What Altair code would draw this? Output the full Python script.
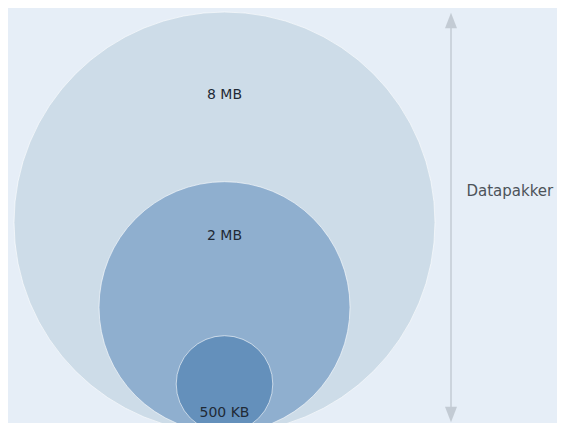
import altair as alt
import pandas as pd

# Data
labels = ["8 MB", "2 MB", "500 KB"]
megabytes = [8, 2, 0.5]
colors = ["#cddce8", "#8fafcf", "#6490bb"]
axis_label = "Datapakker"

df = pd.DataFrame({"label": labels, "mb": megabytes})

W, H = 549, 415

circles = alt.Chart(df).mark_circle(
    opacity=1, stroke="white", strokeWidth=1, strokeOpacity=0.6
).encode(
    x=alt.value(216.5),
    y=alt.Y("mb:Q", axis=None,
            scale=alt.Scale(domain=[0.5, 2, 8], range=[376, 299.2, 214.5], nice=False, zero=False)),
    size=alt.Size("mb:Q", legend=None,
                  scale=alt.Scale(domain=[0.5, 2, 8], range=[96.6 ** 2, 251 ** 2, 421 ** 2], zero=False, nice=False)),
    color=alt.Color("label:N", legend=None,
                    scale=alt.Scale(domain=labels, range=colors)),
    order=alt.Order("mb:Q", sort="descending"),
)

texts = alt.Chart(df).mark_text(
    font="DejaVu Sans", fontSize=14, color="#1f2a36", baseline="middle", align="center"
).encode(
    x=alt.value(216.5),
    y=alt.Y("mb:Q", axis=None,
            scale=alt.Scale(domain=[0.5, 2, 8], range=[405, 228, 87], nice=False, zero=False)),
    text="label:N",
)

arrow_color = "#c3cbd4"
rule = alt.Chart(df).transform_filter("datum.mb == 8").mark_rule(color=arrow_color, strokeWidth=1.5).encode(
    x=alt.value(443), y=alt.value(19), y2=alt.value(404)
)
head_up = alt.Chart(df).transform_filter("datum.mb == 8").mark_point(
    shape="M0,-1L0.77,1L-0.77,1Z", filled=True, color=arrow_color, opacity=1, size=243
).encode(x=alt.value(443), y=alt.value(12.5))
head_down = alt.Chart(df).transform_filter("datum.mb == 8").mark_point(
    shape="M0,1L0.77,-1L-0.77,-1Z", filled=True, color=arrow_color, opacity=1, size=243
).encode(x=alt.value(443), y=alt.value(406.5))

side_label = alt.Chart(pd.DataFrame({"t": [axis_label]})).mark_text(
    font="DejaVu Sans", fontSize=15, color="#4d535a", align="left", baseline="middle"
).encode(x=alt.value(458.5), y=alt.value(183), text="t:N")

chart = alt.layer(circles, texts, rule, head_up, head_down, side_label).resolve_scale(
    y="independent"
).properties(
    width=W, height=H, background="#e6eef7", padding=0,
    autosize=alt.AutoSizeParams(type="none"),
).configure_view(stroke=None)

chart.save("out.html", embed_options={"renderer": "svg", "actions": False})
